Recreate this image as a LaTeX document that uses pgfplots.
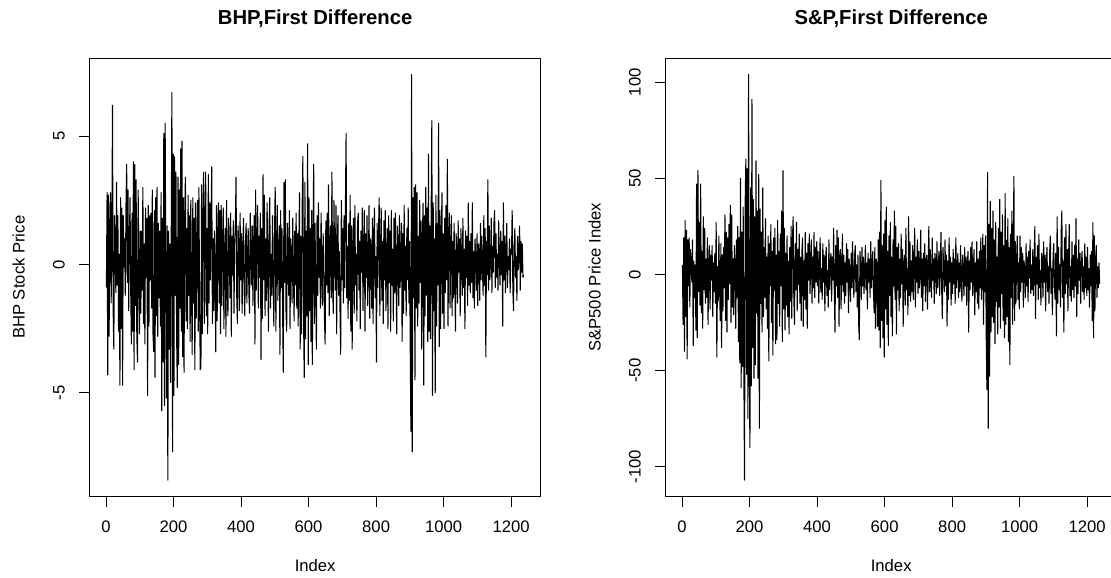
\documentclass[border=0pt]{standalone}
\usepackage{fontspec}
\setmainfont{Liberation Sans}
\usepackage{pgfplots}
\usepackage{pgfplotstable}
\pgfplotsset{compat=1.18}

\pgfplotstableread[header=false]{
-0.9
2.8
-4.3
2.7
-2.8
1.2
2.8
-1.5
0.6
6.2
-1.8
-3.3
1.9
0.5
-1.1
3.2
-0.8
1.9
-2.6
0.4
-4.7
2.6
-2.5
2.2
-4.7
1.9
-0.1
1.0
-1.2
2.3
3.9
-0.7
2.9
-1.8
0.9
2.6
-1.0
-3.1
2.0
-2.6
4.0
-4.1
3.9
-1.6
3.3
-2.7
-3.8
2.9
0.2
-2.7
1.3
-1.9
1.3
-1.0
3.0
-2.3
0.8
-3.1
2.2
-0.5
1.8
-5.1
2.3
-2.4
1.9
-0.6
2.0
-1.7
2.9
-2.7
-3.4
2.1
-4.4
2.6
-2.0
3.0
-2.8
1.6
-1.3
1.3
-2.4
2.8
-5.7
1.8
-3.8
5.1
-5.5
5.5
-0.4
-5.2
1.5
-8.4
1.3
-3.3
0.8
-4.6
1.0
6.7
-7.3
4.3
-5.1
4.2
-1.2
3.6
-2.8
-4.8
3.4
-3.9
2.9
-1.7
4.5
-2.6
4.8
-3.6
2.6
-4.2
2.0
3.4
-2.2
1.4
-2.5
2.7
-1.2
1.9
-3.0
2.5
-0.8
-3.5
2.6
-1.5
1.8
-4.1
2.4
-2.1
0.9
2.5
-2.6
3.0
-1.4
-4.1
-4.0
3.1
-2.7
2.0
3.6
-2.3
1.2
3.6
-2.0
1.4
-2.7
3.5
-1.5
2.4
-0.6
1.8
3.8
-2.3
1.0
-1.8
1.3
-0.8
-3.4
2.3
-2.2
1.0
2.4
-1.5
2.1
-2.7
2.3
-1.6
0.9
2.2
-2.5
0.6
1.4
-2.8
2.5
-1.0
-2.0
1.8
0.5
-1.3
2.0
-2.8
1.1
-0.4
1.7
-1.9
0.8
1.6
3.4
-1.2
-2.3
1.5
0.7
-1.8
2.0
-0.6
1.2
-1.9
0.4
1.8
-1.0
-2.0
0.9
1.6
-1.5
0.3
1.4
-1.1
-1.9
2.0
0.6
-0.8
1.5
-1.6
0.8
1.9
-3.1
2.9
-1.0
0.7
2.3
-1.7
1.1
-0.5
2.0
-3.7
1.4
-2.1
3.5
-0.6
2.7
-2.0
1.0
-1.4
2.4
0.2
-2.6
1.5
2.6
-1.7
0.4
-1.2
1.9
-0.6
-2.4
1.2
3.0
-2.6
0.8
2.3
-1.4
0.5
1.5
-3.5
2.1
-0.9
1.4
-1.9
-4.2
3.2
-0.7
3.3
-1.8
-2.6
1.6
0.6
-1.2
2.1
-2.5
1.0
0.4
-1.5
1.8
-0.3
-2.2
1.3
-0.8
2.0
-1.7
1.2
-2.4
0.7
2.8
-3.3
1.1
-2.7
2.4
4.2
-2.1
-4.4
3.2
-2.9
1.3
-2.0
4.7
-3.9
2.6
-1.8
1.4
-3.0
2.1
-3.9
0.9
3.9
-2.3
1.6
-0.9
-3.3
1.9
-1.2
2.4
-0.5
1.0
-1.7
2.0
-0.4
-1.6
1.2
0.3
-2.2
-3.1
1.7
-0.8
2.0
-1.1
3.1
-2.0
0.6
1.5
-1.3
3.6
-0.7
-1.9
2.5
0.4
-1.0
2.3
-2.7
0.8
1.9
-1.2
0.5
-1.8
-3.5
2.5
-0.6
1.4
-1.5
1.9
-0.9
2.2
5.1
-1.3
0.7
-2.1
1.6
-1.4
2.7
-2.6
1.5
-3.3
0.6
1.8
-1.9
2.3
-0.8
0.4
-2.2
1.6
2.0
-1.0
0.9
-2.5
1.3
-0.3
2.2
-1.8
0.7
2.1
-2.6
1.2
-0.5
1.9
-1.6
-0.2
2.3
-2.1
1.0
0.6
-1.7
1.8
-2.3
0.9
2.2
-1.3
0.3
-3.8
1.6
-0.9
1.2
2.6
-2.0
0.5
2.2
-1.4
0.9
-2.3
1.7
-0.6
2.1
-1.8
0.3
1.4
-2.5
1.9
-0.7
1.3
-2.6
2.1
-0.8
0.6
-2.2
1.8
-1.1
2.0
-0.4
-2.7
1.5
0.8
-1.6
1.9
-0.9
0.4
1.6
-3.0
1.2
-1.9
2.3
-1.0
0.7
-2.0
1.4
-0.6
2.2
-1.5
0.9
-3.2
-6.5
7.4
-7.3
2.6
-1.3
3.0
-4.5
3.1
-1.7
2.8
-2.4
1.1
-1.5
2.5
-0.7
1.7
-3.3
0.9
2.4
-4.7
1.9
-2.0
3.0
-1.2
2.2
-3.0
4.3
-2.6
1.5
-2.9
2.0
5.6
-5.1
2.4
-1.8
1.0
-5.0
2.7
-2.4
1.6
-0.8
5.5
-3.2
2.1
-2.5
0.8
2.8
-1.9
1.2
-2.5
1.8
-1.1
2.3
-0.6
4.1
-2.4
1.0
2.0
-1.7
0.5
1.9
-2.0
0.9
-1.3
1.6
-0.4
-2.6
1.2
0.4
-1.5
1.7
-0.3
1.0
-2.0
1.4
0.2
-1.2
1.8
-0.9
0.6
-2.5
1.3
-0.5
1.1
-1.6
2.4
-0.8
0.9
-1.1
1.2
-0.7
2.4
-1.3
0.5
-1.7
1.0
0.2
-1.0
1.2
-1.6
0.8
0.4
-1.4
1.6
-0.6
1.1
-0.2
-1.2
1.9
-0.8
1.4
-3.6
0.9
-0.4
3.3
-1.0
1.5
-0.6
0.3
1.8
-1.1
0.7
-0.3
1.6
2.1
-0.9
1.2
-0.5
0.4
-1.0
1.7
0.2
-0.8
1.3
-0.4
0.9
-2.4
2.4
-0.6
1.1
-1.1
0.5
1.6
-0.9
0.3
-0.2
1.0
-1.1
0.6
0.4
2.1
-1.0
-1.8
0.8
1.4
-0.5
0.3
-1.4
1.1
-0.2
0.6
1.5
-1.0
0.9
-0.3
0.8
-0.5
-0.4
}\bhp

\pgfplotstableread[header=false]{
5
-26
19
-40
28
-22
23
-44
18
-6
19
-17
13
7
-4
18
-37
7
-12
5
-29
47
-33
54
-9
27
-16
47
-20
12
-28
30
-8
24
-15
8
-12
19
-26
4
15
-18
10
-3
15
-22
6
-9
11
-15
27
-43
4
-14
20
-5
-24
16
-38
10
-19
14
-7
31
-24
22
-30
19
-13
26
-5
36
-25
31
-17
8
-21
15
5
-28
18
-12
25
-35
19
-46
50
-59
22
-48
35
-50
-107
38
60
-52
55
-75
104
-45
-90
45
-58
91
-38
39
-54
30
-47
59
-20
33
-54
52
-80
34
-15
22
-30
45
-22
14
-12
29
-18
9
-28
20
-45
16
-6
26
-25
12
-42
19
-8
24
-36
10
-34
28
-15
12
-27
21
-6
33
-35
54
-18
24
-29
11
-16
20
-22
7
-31
14
-14
25
-23
18
30
-12
-26
16
-8
27
-19
13
-5
21
-15
9
-24
12
19
-27
7
-13
22
-18
11
-28
16
-3
21
-10
5
18
-15
9
-7
22
-12
14
-4
17
-6
12
-15
5
19
-9
3
-13
16
-4
10
-19
7
14
-11
2
-17
18
-8
6
11
-14
9
-3
24
-10
-30
15
-6
23
-12
19
-27
8
13
-18
4
21
-9
10
-15
6
-11
16
-4
13
-20
8
2
-14
11
-7
17
-3
-12
9
15
-9
5
-17
10
-25
-34
12
4
-13
14
-6
9
-10
2
15
-8
6
-18
11
-4
8
-12
17
-7
3
12
-9
-20
14
-28
8
5
-27
18
-29
22
-38
49
-24
15
-33
21
-43
28
-18
35
-26
12
-37
20
-11
27
-22
9
-32
18
-6
33
-13
25
-31
14
-8
16
-19
8
-12
21
-5
13
-27
6
10
-16
24
-8
3
-21
30
-11
17
-14
7
-9
15
-13
5
24
-17
9
-4
18
-10
12
-7
2
23
-12
8
-19
11
-6
16
-14
7
10
-18
4
25
-9
13
-5
-12
19
-3
8
-15
11
6
-10
17
-7
2
12
-11
5
22
-8
-23
14
3
-9
18
-6
10
-27
7
-13
19
-4
9
-16
6
-10
13
-5
8
-15
19
-7
4
11
-12
6
-9
15
-3
-14
10
2
-11
14
-6
9
-16
5
12
-30
7
-8
14
-4
17
-11
3
13
-21
6
-9
17
-15
8
-18
12
-7
19
-13
4
21
-26
15
-9
20
-32
-60
53
-80
26
-53
38
-30
24
-22
33
-25
18
-36
27
-14
9
-31
24
-17
39
-28
22
-10
31
-24
15
-33
42
-26
18
-22
29
-35
14
-47
21
-12
33
-26
10
51
-24
17
-15
8
20
-13
6
-18
20
-9
14
-4
11
-17
7
3
-12
16
-6
9
-14
12
-2
18
-10
5
-8
13
-11
6
25
-23
9
-5
15
-13
21
-7
2
-16
11
8
-12
17
-4
10
-19
6
14
-9
4
-15
12
20
-10
3
-21
9
16
-6
-13
11
-32
30
-15
14
-8
5
-17
22
33
-12
7
-30
19
-10
26
-5
13
-19
9
26
-11
4
-14
17
-8
10
-12
15
-6
29
-22
8
-10
18
-3
11
-15
6
12
-9
4
-13
16
-7
9
-11
14
-8
3
-17
10
-6
12
-24
27
-33
20
-19
8
15
-12
4
-7
6
-5
}\spx

\pgfplotsset{
  rpanel/.style={
    scale only axis,
    width=338.25pt, height=328.5pt,
    xmin=-48.5, xmax=1287.5,
    axis line style={line width=0.75pt},
    tick pos=left,
    tick align=outside,
    major tick length=7.8pt,
    tick style={line width=0.75pt, black},
    xtick={0,200,...,1200},
    ticklabel style={font=\fontsize{12.5}{15}\selectfont},
    /pgf/number format/assume math mode=true,
    /pgf/number format/1000 sep={},
    xticklabel style={anchor=base},
    xticklabel shift=19.5pt,
    yticklabel style={rotate=90, anchor=base},
    yticklabel shift=11pt,
    label style={font=\fontsize{12.5}{15}\selectfont},
    xlabel style={at={(axis description cs:0.5,0)}, anchor=base, yshift=-56.6pt},
    ylabel style={at={(axis description cs:-0.1441,0.5)}, anchor=base, rotate=0},
    every axis title/.style={at={(axis description cs:0.5,1.0763)}, anchor=base, font=\bfseries\fontsize{15.2}{18}\selectfont},
    xlabel={Index},
  }
}

\begin{document}
\begin{tikzpicture}
\begin{axis}[rpanel,
  at={(67.275pt,61.275pt)}, anchor=south west,
  ymin=-9.03, ymax=8.03,
  ytick={-5,0,5},
  ylabel={BHP Stock Price},
  title={BHP,First Difference}]
\addplot[black, line width=0.8pt, line join=round, mark=none] table[x expr=2*\coordindex+1, y index=0] {\bhp};
\end{axis}
\begin{axis}[rpanel,
  at={(499.275pt,61.275pt)}, anchor=south west,
  ymin=-115.4, ymax=112.4,
  ytick={-100,-50,0,50,100},
  ylabel={S\&P500 Price Index},
  title={S\&P,First Difference}]
\addplot[black, line width=0.8pt, line join=round, mark=none] table[x expr=2*\coordindex+1, y index=0] {\spx};
\end{axis}
\pgfresetboundingbox
\useasboundingbox (0,0) rectangle (833.25pt,433.5pt);
\end{tikzpicture}
\end{document}
